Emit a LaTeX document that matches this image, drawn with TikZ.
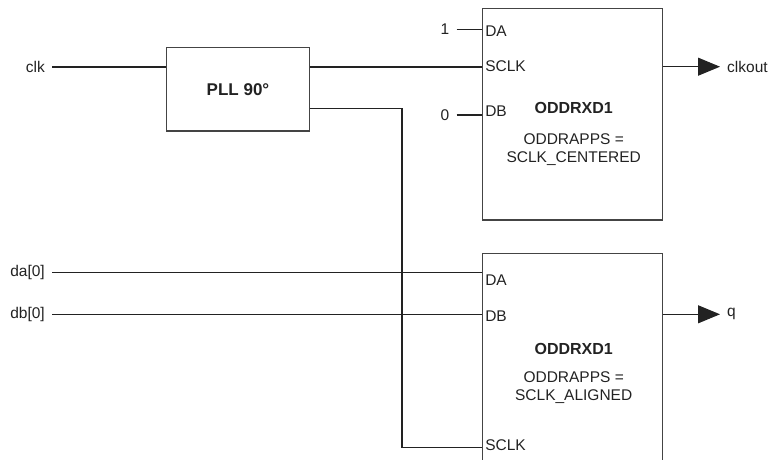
\documentclass[tikz,border=0pt]{standalone}
\usepackage{fontspec}
\setmainfont{Liberation Sans}
\usetikzlibrary{positioning,arrows.meta,calc}
\definecolor{ink}{HTML}{222222}
\definecolor{edge}{HTML}{444444}

\begin{document}
\begin{tikzpicture}[
  x=1pt, y=-1pt,
  blk/.style={draw=edge, line width=1.2pt, minimum width=180pt, inner sep=0pt},
  sig/.style={font=\fontsize{15.5}{17}\selectfont, text=ink, inner xsep=7pt, inner ysep=1pt},
  pin/.style={font=\fontsize{15.5}{17}\selectfont, text=ink, anchor=west, inner xsep=3pt, inner ysep=1pt},
  title/.style={font=\fontsize{16}{18}\selectfont\bfseries, text=ink},
  param/.style={font=\fontsize{15.5}{18}\selectfont, text=ink, align=center},
  wire/.style={line width=1.1pt, ink},
  arrow/.style={wire, -{Triangle[length=22pt, width=18pt]}}
]
  \useasboundingbox (0,0) rectangle (772,460);
  \clip (0,0) rectangle (772,460);

  % blocks
  \node[blk, minimum width=143.3pt, minimum height=83.3pt, font=\fontsize{17}{19}\selectfont\bfseries, text=ink] (pll) at (238,89.3) {PLL 90°};
  \node[blk, minimum height=211.7pt] (odd1) at (572.7,114.2) {};
  \node[blk, minimum height=230pt] (odd2) at (572.7,368.3) {};

  % text inside the ODDRXD1 blocks
  \node[title] (name1) at ($(odd1.north)+(1,100)$) {ODDRXD1};
  \node[param, below=13pt of name1] (mode1) {ODDRAPPS =\\SCLK\_CENTERED};
  \node[title] (name2) at ($(odd2.north)+(1,96.7)$) {ODDRXD1};
  \node[param, below=10pt of name2] (mode2) {ODDRAPPS =\\SCLK\_ALIGNED};

  % pins
  \node[pin] (da1) at ($(odd1.north west)+(0,23.5)$) {DA};
  \node[pin] (sclk1) at ($(odd1.north west)+(0,58.5)$) {SCLK};
  \node[pin] (db1) at ($(odd1.north west)+(0,103)$) {DB};
  \node[pin] (da2) at ($(odd2.north west)+(0,27)$) {DA};
  \node[pin] (db2) at ($(odd2.north west)+(0,63)$) {DB};
  \node[pin] (sclk2) at ($(odd2.north west)+(0,192)$) {SCLK};
  \coordinate (sclkin) at ($(odd2.north west)+(0,194.4)$);

  % signal ends
  \node[sig, anchor=east] (clk) at (52,67) {clk};
  \node[sig, anchor=east] (one) at (456.5,29.3) {1};
  \node[sig, anchor=east] (zero) at (456.5,115) {0};
  \node[sig, anchor=east] (da) at (52,272.7) {da[0]};
  \node[sig, anchor=east] (db) at (52,314.3) {db[0]};
  \node[sig, anchor=west] (clkout) at (720,66.7) {clkout};
  \node[sig, anchor=west] (q) at (720,314.3) {q};

  \coordinate (tap) at (402,108.3);

  % wiring
  \draw[wire] (clk.east) -- (clk -| pll.west);
  \draw[wire] (pll.east |- clk) -- (clk -| odd1.west);
  \draw[wire] (one.east) -- (one -| odd1.west);
  \draw[wire] (zero.east) -- (zero -| odd1.west);
  \draw[wire] (pll.east |- tap) -- (tap) |- (sclkin);
  \draw[wire] (da.east) -- (da -| odd2.west);
  \draw[wire] (db.east) -- (db -| odd2.west);
  \draw[arrow] (odd1.east |- clkout) -- (clkout.west);
  \draw[arrow] (odd2.east |- q) -- (q.west);
\end{tikzpicture}
\end{document}
